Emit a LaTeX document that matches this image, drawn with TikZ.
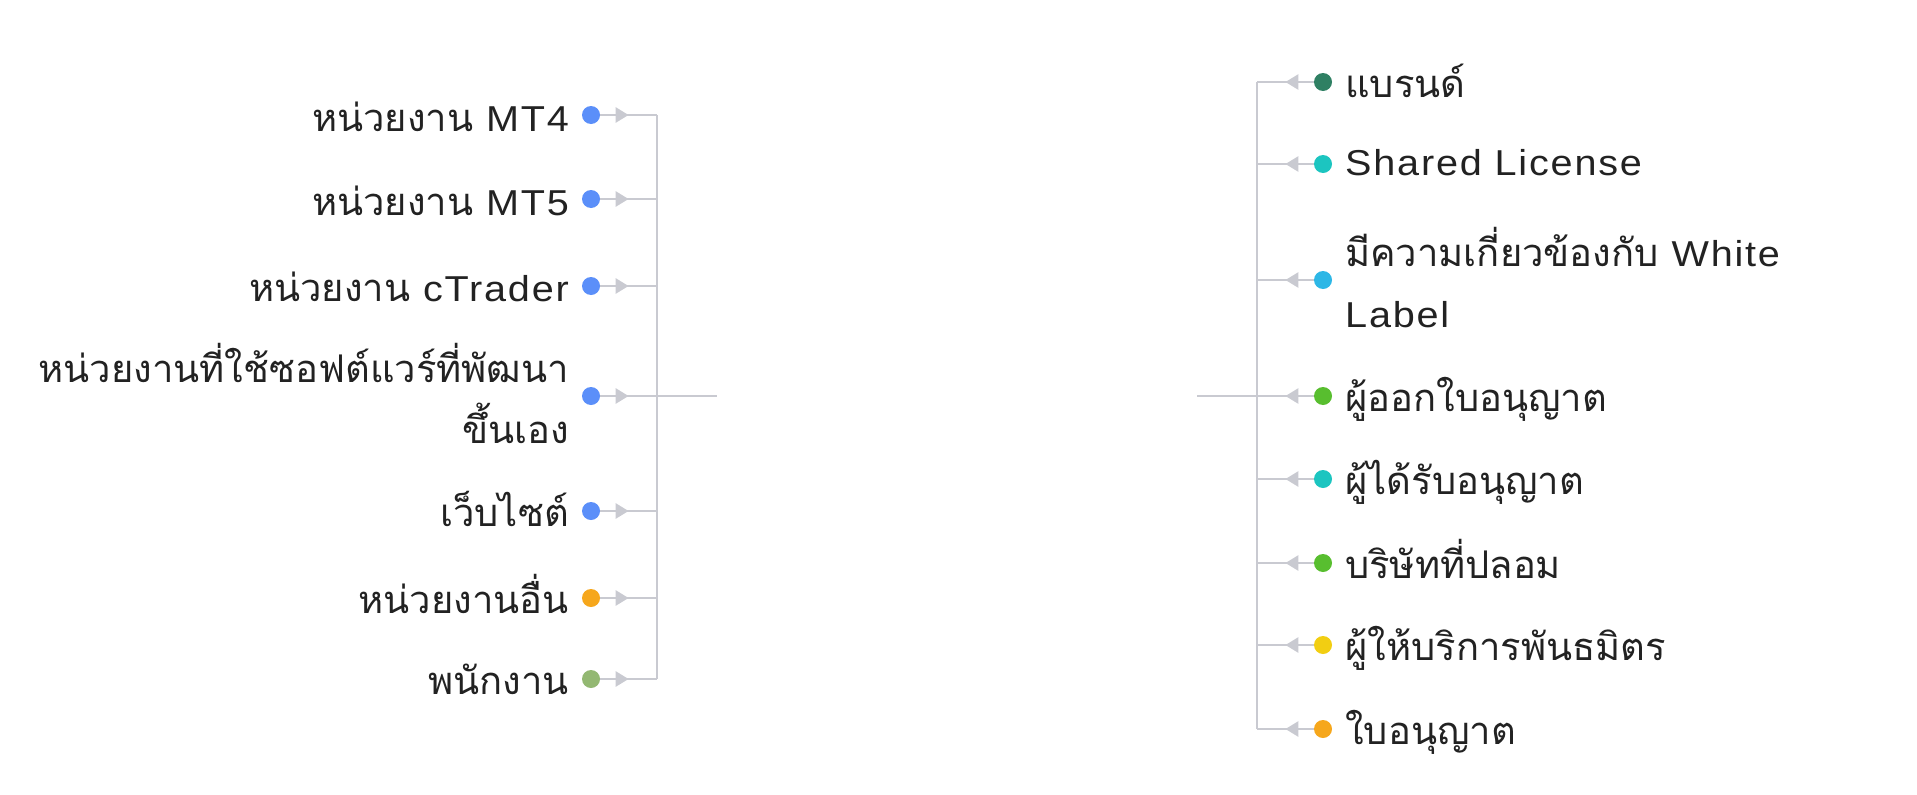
\documentclass[tikz,border=0pt]{standalone}
\usepackage{fontspec}
\setmainfont{Liberation Sans}[LetterSpace=5,FakeStretch=1.1]
\newfontfamily\thf[Script=Thai,Scale=1.06]{Loma}
\usetikzlibrary{arrows.meta,decorations.markings}
\definecolor{lineC}{HTML}{C9CAD1}
\definecolor{txtC}{HTML}{222222}
\definecolor{cBlue}{HTML}{5B8FF9}
\definecolor{cOrange}{HTML}{F6A71C}
\definecolor{cOlive}{HTML}{93B872}
\definecolor{cDkGreen}{HTML}{2F8063}
\definecolor{cTeal}{HTML}{1CC5C0}
\definecolor{cSky}{HTML}{2DB7E6}
\definecolor{cGreen}{HTML}{58BE2F}
\definecolor{cYellow}{HTML}{F2CE12}
\tikzset{
  dot/.style={circle,inner sep=0pt,minimum size=18pt,draw=none},
  conn/.style={draw=lineC,line width=2.8pt},
  midarrow/.style={postaction={decorate},decoration={markings,mark=at position #1 with {\arrow[lineC]{Triangle[length=13pt,width=15pt]}}}},
  lbl/.style={text=txtC,inner sep=0pt,font=\fontsize{36}{61}\selectfont},
}
\begin{document}
\begin{tikzpicture}[x=1pt,y=-1pt]
\useasboundingbox (0,0) rectangle (1917,795);
% ---------- left side ----------
\foreach \n/\y in {1/115,2/199,3/286,4/396,5/511,6/598,7/679}{
  \coordinate (jl\n) at (657,\y);
}
\coordinate (lcEnd) at (717,396);
\node[dot,fill=cBlue]  (l1) at (591,115) {};
\node[dot,fill=cBlue]  (l2) at (591,199) {};
\node[dot,fill=cBlue]  (l3) at (591,286) {};
\node[dot,fill=cBlue]  (l4) at (591,396) {};
\node[dot,fill=cBlue]  (l5) at (591,511) {};
\node[dot,fill=cOrange](l6) at (591,598) {};
\node[dot,fill=cOlive] (l7) at (591,679) {};
\draw[conn] (jl1) -- (jl7);
\draw[conn] (jl4) -- (lcEnd);
\foreach \n in {1,...,7}{
  \draw[conn,midarrow=0.5] (l\n) -- (jl\n);
}
\node[lbl,anchor=base east] (tl1) at (569,131) {{\thf หน่วยงาน} MT4};
\node[lbl,anchor=base east] (tl2) at (569,215) {{\thf หน่วยงาน} MT5};
\node[lbl,anchor=base east] (tl3) at (569,301) {{\thf หน่วยงาน} cTrader};
\node[lbl,anchor=base east,align=right] (tl4) at (569,443) {\thf หน่วยงานที่ใช้ซอฟต์แวร์ที่พัฒนา\\\thf ขึ้นเอง};
\node[lbl,anchor=base east] (tl5) at (569,526) {\thf เว็บไซต์};
\node[lbl,anchor=base east] (tl6) at (569,613) {\thf หน่วยงานอื่น};
\node[lbl,anchor=base east] (tl7) at (569,694) {\thf พนักงาน};
% ---------- right side ----------
\foreach \n/\y in {1/82,2/164,3/280,4/396,5/479,6/563,7/645,8/729}{
  \coordinate (jr\n) at (1257,\y);
}
\coordinate (rcEnd) at (1197,396);
\node[dot,fill=cDkGreen](r1) at (1323,82) {};
\node[dot,fill=cTeal]   (r2) at (1323,164) {};
\node[dot,fill=cSky]    (r3) at (1323,280) {};
\node[dot,fill=cGreen]  (r4) at (1323,396) {};
\node[dot,fill=cTeal]   (r5) at (1323,479) {};
\node[dot,fill=cGreen]  (r6) at (1323,563) {};
\node[dot,fill=cYellow] (r7) at (1323,645) {};
\node[dot,fill=cOrange] (r8) at (1323,729) {};
\draw[conn] (jr1) -- (jr8);
\draw[conn] (jr4) -- (rcEnd);
\foreach \n in {1,...,8}{
  \draw[conn,midarrow=0.5] (r\n) -- (jr\n);
}
\node[lbl,anchor=base west] (tr1) at (1345,97) {\thf แบรนด์};
\node[lbl,anchor=base west] (tr2) at (1345,175) {Shared License};
\node[lbl,anchor=base west,align=left] (tr3) at (1345,327) {{\thf มีความเกี่ยวข้องกับ} White\\Label};
\node[lbl,anchor=base west] (tr4) at (1345,411) {\thf ผู้ออกใบอนุญาต};
\node[lbl,anchor=base west] (tr5) at (1345,494) {\thf ผู้ได้รับอนุญาต};
\node[lbl,anchor=base west] (tr6) at (1345,578) {\thf บริษัทที่ปลอม};
\node[lbl,anchor=base west] (tr7) at (1345,660) {\thf ผู้ให้บริการพันธมิตร};
\node[lbl,anchor=base west] (tr8) at (1345,744) {\thf ใบอนุญาต};
\end{tikzpicture}
\end{document}
